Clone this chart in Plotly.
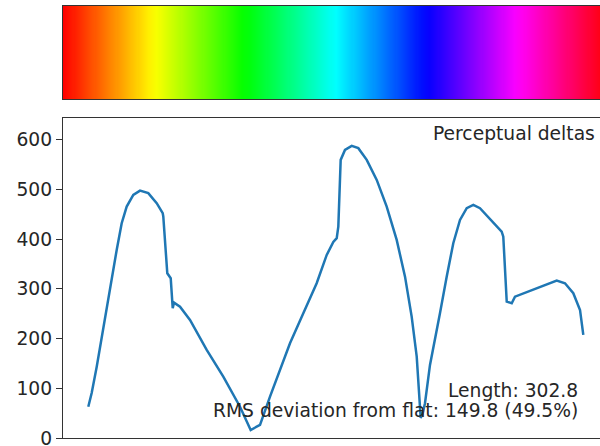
import numpy as np
import plotly.graph_objects as go

# Perceptual delta curve (position along colormap, delta value)
hue_pos = [0.0471, 0.0534, 0.0628, 0.0721, 0.0814, 0.0907, 0.1000, 0.1093, 0.1186, 0.1309,
           0.1434, 0.1588, 0.1745, 0.1857, 0.1868, 0.1942, 0.2006, 0.2043, 0.2067, 0.2179,
           0.2365, 0.2676, 0.2985, 0.3296, 0.3495, 0.3607, 0.3669, 0.3855, 0.4041, 0.4227,
           0.4475, 0.4724, 0.4911, 0.5034, 0.5097, 0.5127, 0.5171, 0.5251, 0.5376, 0.5499,
           0.5656, 0.5842, 0.6028, 0.6214, 0.6369, 0.6493, 0.6587, 0.6635, 0.6661, 0.6704,
           0.6741, 0.6834, 0.6927, 0.7020, 0.7145, 0.7268, 0.7393, 0.7518, 0.7641, 0.7765,
           0.8169, 0.8199, 0.8263, 0.8356, 0.8417, 0.8821, 0.9194, 0.9348, 0.9503, 0.9628,
           0.9689]
deltas = [63.0, 90.6, 143.5, 203.9, 264.3, 324.7, 378.5, 432.3, 465.7, 489.2,
          497.9, 492.7, 472.5, 452.4, 445.5, 331.6, 321.5, 261.1, 272.4, 264.3,
          237.6, 177.2, 123.4, 63.0, 16.1, 22.8, 26.2, 83.2, 136.9, 190.7,
          251.1, 311.5, 368.4, 394.6, 402.1, 425.4, 559.7, 579.8, 587.9, 583.3,
          559.7, 519.4, 465.7, 398.6, 324.7, 244.2, 163.7, 83.2, 40.3, 52.3,
          69.9, 147.0, 197.3, 251.1, 324.7, 392.0, 438.9, 462.5, 469.1, 462.5,
          415.3, 405.3, 274.4, 271.2, 284.5, 301.4, 316.7, 311.5, 291.3, 257.7,
          207.4]

y_ticks = [0, 100, 200, 300, 400, 500, 600]
label_title = "Perceptual deltas"
label_length = "Length: 302.8"
label_rms = "RMS deviation from flat: 149.8 (49.5%)"

# matplotlib 'hsv' colormap segment stops
hsv_stops = [0.0, 0.158730, 0.174603, 0.333333, 0.349206, 0.507937,
             0.666667, 0.682540, 0.841270, 0.857143, 1.0]
hsv_rgb = [(1, 0, 0), (1, 0.9375, 0), (0.96875, 1, 0), (0.03125, 1, 0), (0, 1, 0.0625),
           (0, 1, 1), (0, 0.0625, 1), (0.03125, 0, 1), (0.96875, 0, 1), (1, 0, 0.9375),
           (1, 0, 0.09375)]
colorscale = [[s, "rgb(%d,%d,%d)" % tuple(round(c * 255) for c in rgb)]
              for s, rgb in zip(hsv_stops, hsv_rgb)]

n = 512
grad = np.linspace(0, 1, n)

W, H = 600, 446
ml, mr, mt, mb = 63, 0, 6, 8
ph = H - mt - mb
def py(p):
    return (438 - p) / ph

def xp(p):
    return (p - ml) / (W - ml - mr)

fig = go.Figure()
fig.add_trace(go.Heatmap(z=[grad], x=(grad * (n - 1) + 0.5) / n, y=[0],
                         colorscale=colorscale, showscale=False,
                         xaxis="x2", yaxis="y2", hoverinfo="skip"))
fig.add_trace(go.Scatter(x=hue_pos, y=deltas, mode="lines",
                         line=dict(color="#1f77b4", width=2.5),
                         xaxis="x", yaxis="y", hoverinfo="skip"))

axcol = "#333333"
font = dict(family="DejaVu Sans", size=18.7, color="#262626")
fig.update_layout(
    width=W, height=H, margin=dict(l=ml, r=mr, t=mt, b=mb, autoexpand=False),
    paper_bgcolor="white", plot_bgcolor="white", showlegend=False,
    font=font,
    xaxis=dict(domain=[0, 1], range=[0, 1], showgrid=False, zeroline=False,
               showticklabels=False, ticks="", showline=True, mirror=True,
               linecolor=axcol, linewidth=1.3, automargin=False),
    yaxis=dict(domain=[0, py(118)], range=[0, 644], showgrid=False, zeroline=False,
               tickvals=y_ticks, ticks="outside", ticklen=6, tickcolor=axcol,
               tickwidth=1.3, showline=True, linecolor=axcol, linewidth=1.3,
               tickfont=font, ticklabeloverflow="allow", automargin=False),
    xaxis2=dict(domain=[0, 1], range=[0, 1], anchor="y2", showgrid=False,
                zeroline=False, showticklabels=False, ticks="", showline=True,
                mirror=True, linecolor=axcol, linewidth=1.3, automargin=False),
    yaxis2=dict(domain=[py(99), 1], range=[-0.5, 0.5], anchor="x2", showgrid=False,
                zeroline=False, showticklabels=False, ticks="", showline=True,
                linecolor=axcol, linewidth=1.3, automargin=False),
)

fig.add_annotation(text=label_title, xref="paper", yref="paper", x=xp(597), y=py(133),
                   xanchor="right", yanchor="middle", showarrow=False, font=font)
fig.add_annotation(text=label_length, xref="paper", yref="paper", x=xp(580), y=py(390),
                   xanchor="right", yanchor="middle", showarrow=False, font=font)
fig.add_annotation(text=label_rms, xref="paper", yref="paper", x=xp(580), y=py(410),
                   xanchor="right", yanchor="middle", showarrow=False, font=font)

fig.write_html("out.html")
